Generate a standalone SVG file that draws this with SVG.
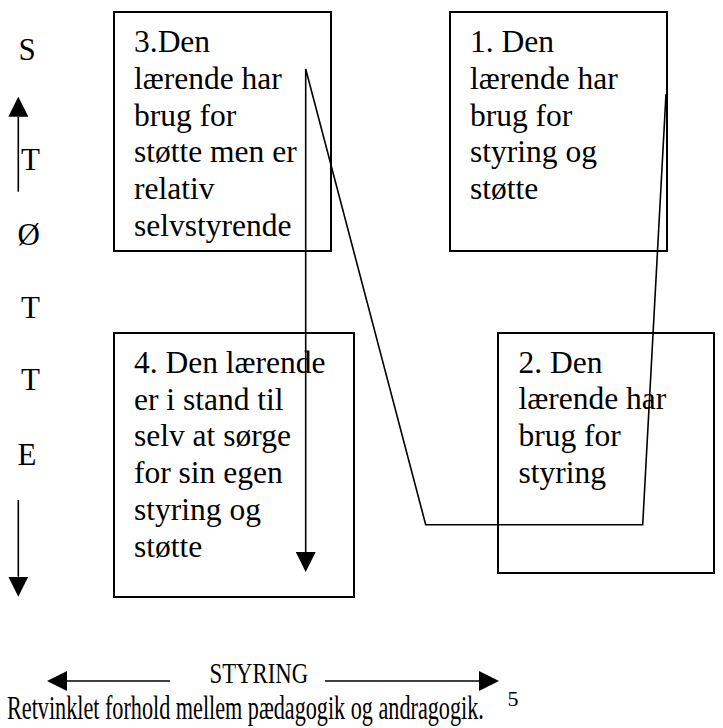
<svg xmlns="http://www.w3.org/2000/svg" width="723" height="728" viewBox="0 0 723 728">
<style>
  .box { fill: none; stroke: #000; stroke-width: 2; }
  .t { font-family: "Liberation Serif", "Times New Roman", serif; font-size: 31.5px; fill: #000; }
  .ax { font-family: "Liberation Serif", "Times New Roman", serif; font-size: 31px; fill: #000; }
  .ln { fill: none; stroke: #000; stroke-width: 1.6; }
</style>
<defs>
  <marker id="ah" markerUnits="userSpaceOnUse" markerWidth="20" markerHeight="20" refX="0" refY="10" orient="auto" viewBox="0 0 20 20">
    <path d="M0,0 L20,10 L0,20 Z" fill="#000"/>
  </marker>
</defs>
<rect width="723" height="728" fill="#fff"/>

<g id="node3">
  <rect class="box" x="114" y="12" width="217" height="239"/>
  <text class="t" x="134" y="52.3">3.Den</text>
  <text class="t" x="134" y="89">lærende har</text>
  <text class="t" x="134" y="125.7">brug for</text>
  <text class="t" x="134" y="162.4">støtte men er</text>
  <text class="t" x="134" y="199.1">relativ</text>
  <text class="t" x="134" y="235.8">selvstyrende</text>
</g>
<g id="node1">
  <rect class="box" x="450" y="12" width="217" height="239"/>
  <text class="t" x="470" y="52.3">1. Den</text>
  <text class="t" x="470" y="89">lærende har</text>
  <text class="t" x="470" y="125.7">brug for</text>
  <text class="t" x="470" y="162.4">styring og</text>
  <text class="t" x="470" y="199.1">støtte</text>
</g>
<g id="node4">
  <rect class="box" x="114" y="333" width="240" height="264"/>
  <text class="t" x="134" y="373">4. Den lærende</text>
  <text class="t" x="134" y="409.7">er i stand til</text>
  <text class="t" x="134" y="446.4">selv at sørge</text>
  <text class="t" x="134" y="483.1">for sin egen</text>
  <text class="t" x="134" y="519.8">styring og</text>
  <text class="t" x="134" y="556.5">støtte</text>
</g>
<g id="node2">
  <rect class="box" x="498" y="333" width="216" height="240"/>
  <text class="t" x="518.5" y="372.5">2. Den</text>
  <text class="t" x="518.5" y="409.2">lærende har</text>
  <text class="t" x="518.5" y="445.9">brug for</text>
  <text class="t" x="518.5" y="482.6">styring</text>
</g>

<g id="connectors">
  <polyline class="ln" points="666,94 642.7,524.7 425.7,524.7 305.7,69 305.7,552" marker-end="url(#ah)"/>
  <line class="ln" x1="18.3" y1="191.7" x2="18.3" y2="116.7" marker-end="url(#ah)"/>
  <line class="ln" x1="18.3" y1="500" x2="18.3" y2="576.7" marker-end="url(#ah)"/>
  <line class="ln" x1="170" y1="681" x2="67" y2="681" marker-end="url(#ah)"/>
  <line class="ln" x1="325" y1="681" x2="479" y2="681" marker-end="url(#ah)"/>
</g>

<g id="axis-labels">
  <text class="ax" x="18.5" y="60">S</text>
  <text class="ax" x="21" y="170">T</text>
  <text class="ax" x="17.5" y="245">Ø</text>
  <text class="ax" x="21" y="318">T</text>
  <text class="ax" x="21" y="390">T</text>
  <text class="ax" x="17.5" y="465">E</text>
  <text class="ax" transform="translate(209.5,683.3) scale(1,1.33)" x="0" y="0" style="font-size:22.8px">STYRING</text>
</g>
<g id="caption">
  <text class="ax" transform="translate(7,719) scale(1,1.48)" x="0" y="0" style="font-size:22.2px">Retvinklet forhold mellem pædagogik og andragogik.</text>
  <text class="ax" x="507.5" y="706" style="font-size:22px">5</text>
</g>
</svg>
